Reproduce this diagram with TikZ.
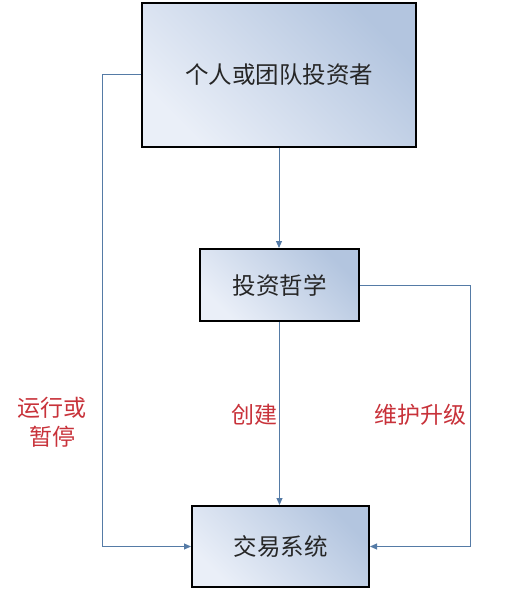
\documentclass[tikz,border=0pt]{standalone}
\usepackage{fontspec}
\newfontfamily\cjk{Noto Sans CJK SC}
\definecolor{boxLight}{HTML}{EAEFF8}
\definecolor{boxDark}{HTML}{B3C5DF}
\definecolor{flowLine}{HTML}{557BA6}
\definecolor{noteRed}{HTML}{C8323A}
\usetikzlibrary{arrows.meta, positioning, calc}

\begin{document}
\begin{tikzpicture}[
        x=1pt, y=-1pt,
        box/.style={
          draw=black,
          line width=2pt,
          left color=boxLight,
          right color=boxDark,
          shading angle=135,
          text=black!85,
          align=center,
          font=\cjk\fontsize{23.5}{28}\selectfont,
        },
        note/.style={
          text=noteRed,
          align=center,
          font=\cjk\fontsize{23}{29}\selectfont,
        },
        arr/.style={-{Triangle[length=7pt,width=6pt]}, flowLine, line width=1pt},
      ]
        \useasboundingbox (0,0) rectangle (514,615);

        \node[box, minimum width=274pt, minimum height=143pt] (investor) at (279,75) {个人或团队投资者};
        \node[box, minimum width=159pt, minimum height=72pt] (philosophy) at (279.5,285) {投资哲学};
        \node[box, minimum width=177pt, minimum height=81pt] (system) at (280.5,546.5) {交易系统};

        \node[note] (runstop) at (52,422) {运行或\\暂停};
        \node[note] (create) at (254,415) {创建};
        \node[note] (upgrade) at (420,415) {维护升级};

        \draw[arr] (investor.south) -- (investor.south |- philosophy.north);
        \draw[arr] (philosophy.south) -- (philosophy.south |- system.north);
        \draw[arr] (investor.west) -- ++(-39,0) |- (system.west);
        \draw[arr] (philosophy.east) -- ++(110,0) |- (system.east);
      \end{tikzpicture}
\end{document}
